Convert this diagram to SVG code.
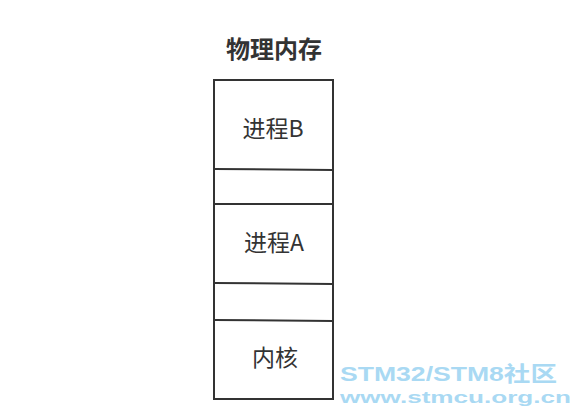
<svg xmlns="http://www.w3.org/2000/svg" width="572" height="416" viewBox="0 0 572 416">
<style>
.box{fill:none;stroke:#333;stroke-width:2}
.t{font-family:"Noto Sans CJK SC","Liberation Sans",sans-serif;font-size:23px;fill:#333;text-anchor:middle}
.wm{font-family:"Liberation Sans","Noto Sans CJK SC",sans-serif;font-weight:bold;fill:#a9d9f3}
</style>
<rect width="572" height="416" fill="#fff"/>
<text x="274" y="58" class="t" style="font-weight:bold;font-size:24px">物理内存</text>
<g id="memory">
<rect class="box" x="214" y="80" width="119" height="319"/>
</g>
<g id="procB"><text class="t" x="273" y="137">进程B</text></g>
<g id="procA"><text class="t" x="274" y="251">进程A</text></g>
<g id="kernel"><text class="t" x="275" y="366">内核</text></g>
<g id="connectors">
<line class="box" x1="214" y1="169" x2="333" y2="170"/>
<line class="box" x1="214" y1="204" x2="333" y2="204"/>
<line class="box" x1="214" y1="283" x2="333" y2="284"/>
<line class="box" x1="214" y1="320" x2="333" y2="321"/>
</g>
<text class="wm" x="340" y="381" style="font-size:21px" textLength="217" lengthAdjust="spacingAndGlyphs">STM32/STM8社区</text>
<text class="wm" x="340" y="403" style="font-size:17px" textLength="231" lengthAdjust="spacingAndGlyphs">www.stmcu.org.cn</text>
</svg>
